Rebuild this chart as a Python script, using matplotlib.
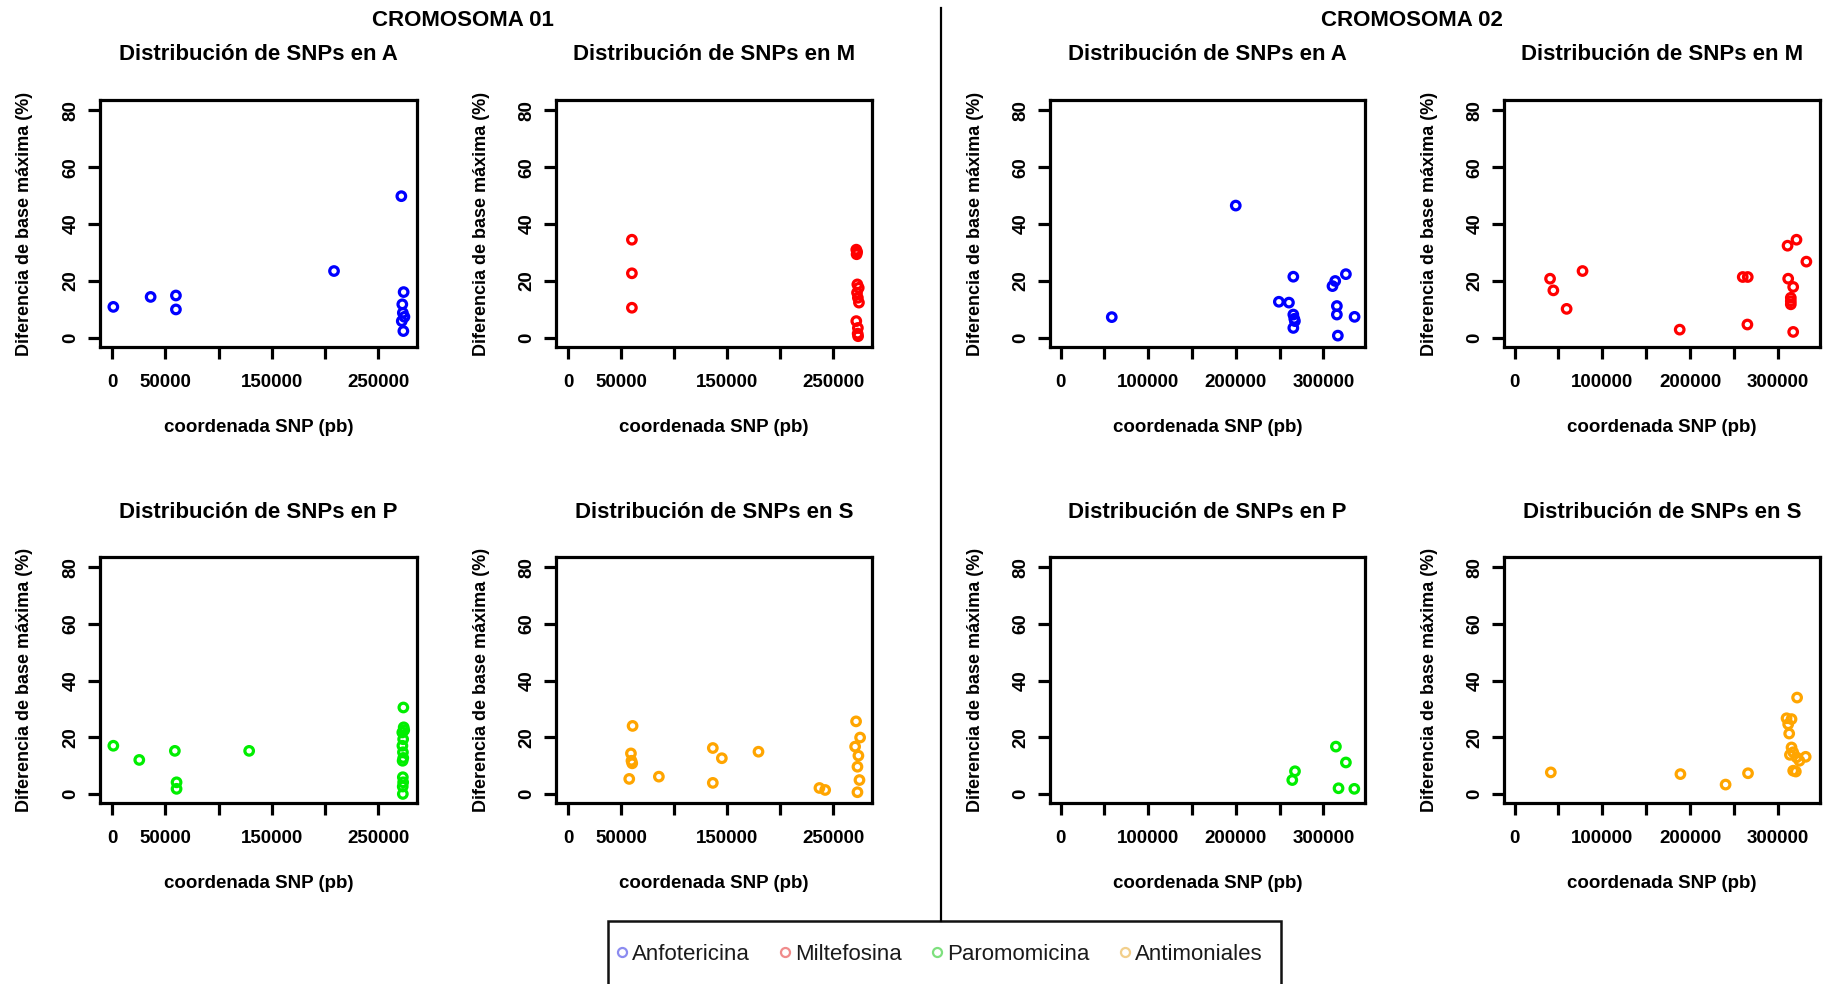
import matplotlib
matplotlib.use('Agg')
import matplotlib.pyplot as plt
from matplotlib.lines import Line2D
from matplotlib.patches import Rectangle

# ---------------- data ----------------
chromosomes = ['CROMOSOMA 01', 'CROMOSOMA 02']
drugs = ['A', 'M', 'P', 'S']
legend_labels = ['Anfotericina', 'Miltefosina', 'Paromomicina', 'Antimoniales']
drug_colors = ['#0000ff', '#ff0000', '#00ee00', '#ffa500']
legend_colors = ['#8c8cf0', '#f08c8c', '#7ee07e', '#f2cf8c']

y_ticks = [0, 20, 40, 60, 80]
chr1_ticks = [0, 50000, 100000, 150000, 200000, 250000]
chr1_ticklabels = ['0', '50000', '', '150000', '', '250000']
chr2_ticks = [0, 50000, 100000, 150000, 200000, 250000, 300000]
chr2_ticklabels = ['0', '', '100000', '', '200000', '', '300000']
chr1_xlim = (-11270, 286300)
chr2_xlim = (-12000, 347500)
y_lim = (-3.2, 83.6)

chr1_A_x = [1250, 36250, 60000, 60000, 208400, 271600, 273750, 272500, 273000, 274500, 272000, 273500]
chr1_A_y = [10.9, 14.4, 14.9, 10.0, 23.5, 49.8, 16.1, 11.8, 8.8, 7.4, 5.9, 2.4]

chr1_M_x = [60200, 60200, 60200, 271500, 272300, 271800, 272500, 273800, 272200, 273000, 274000,
            271500, 273000, 272800, 273200]
chr1_M_y = [34.5, 22.7, 10.6, 31.0, 30.2, 29.4, 18.8, 17.6, 15.9, 14.1, 12.4, 5.9, 3.5, 1.5, 0.6]

chr1_P_x = [1250, 25600, 59000, 60600, 60600, 128750, 273500, 273800, 274300, 272500, 273300, 272600,
            273100, 273400, 272800, 273000, 273300, 272900, 273000]
chr1_P_y = [17.0, 12.0, 15.2, 4.1, 1.8, 15.2, 30.5, 23.5, 22.5, 21.7, 19.3, 17.0, 14.7, 12.7, 11.7,
            5.9, 4.1, 2.6, 0.0]

chr1_S_x = [60850, 59300, 59800, 60500, 57700, 85600, 136400, 144900, 136400, 179400, 236800, 242200,
            271300, 275100, 270400, 273500, 272600, 274500, 272600]
chr1_S_y = [24.0, 14.3, 11.7, 10.8, 5.3, 6.1, 16.2, 12.6, 3.9, 14.9, 2.1, 1.4, 25.6, 19.9, 16.7, 13.5,
            9.6, 4.9, 0.6]

chr2_A_x = [58500, 200000, 265700, 249200, 260700, 265700, 266800, 267500, 265700, 310400, 313500,
            325700, 315400, 315400, 316500, 335600]
chr2_A_y = [7.3, 46.5, 21.5, 12.7, 12.4, 8.2, 6.7, 5.9, 3.5, 18.2, 20.0, 22.4, 11.2, 8.2, 0.8, 7.4]

chr2_M_x = [40400, 44150, 59250, 77350, 187900, 259600, 265300, 264900, 310600, 320750, 332000,
            311300, 317000, 314300, 314300, 314300, 317000]
chr2_M_y = [20.8, 16.7, 10.2, 23.5, 2.9, 21.4, 21.4, 4.7, 32.4, 34.5, 26.8, 20.8, 17.9, 14.1, 12.9,
            11.8, 2.1]

chr2_P_x = [314300, 325700, 267600, 264500, 317300, 335300]
chr2_P_y = [16.7, 11.1, 8.0, 4.9, 2.0, 1.8]

chr2_S_x = [41260, 188700, 240100, 265600, 321450, 309450, 315100, 311300, 312450, 315100, 317000,
            313300, 320800, 331200, 324100, 317000, 320000]
chr2_S_y = [7.6, 7.0, 3.3, 7.3, 34.0, 26.7, 26.4, 24.6, 21.3, 16.4, 14.7, 13.8, 12.9, 13.1, 11.7,
            8.2, 7.9]

# ---------------- figure ----------------
plt.rcParams['font.family'] = ['Liberation Sans', 'DejaVu Sans']
W, H = 1827, 984
fig = plt.figure(figsize=(W / 100, H / 100), dpi=100)


def fx(px):
    return px / W


def fy(py):
    return 1 - py / H


col_lr = [(100, 417), (556, 872), (1050, 1365), (1504, 1820)]
row_tb = [(100, 347), (557, 803)]

panels = [
    # (row, col, drug index, chromosome index, x, y)
    (0, 0, 0, 0, chr1_A_x, chr1_A_y),
    (0, 1, 1, 0, chr1_M_x, chr1_M_y),
    (1, 0, 2, 0, chr1_P_x, chr1_P_y),
    (1, 1, 3, 0, chr1_S_x, chr1_S_y),
    (0, 2, 0, 1, chr2_A_x, chr2_A_y),
    (0, 3, 1, 1, chr2_M_x, chr2_M_y),
    (1, 2, 2, 1, chr2_P_x, chr2_P_y),
    (1, 3, 3, 1, chr2_S_x, chr2_S_y),
]

for row, col, di, ci, xs, ys in panels:
    l, r = col_lr[col]
    t, b = row_tb[row]
    ax = fig.add_axes([fx(l), fy(b), (r - l) / W, (b - t) / H])
    ax.scatter(xs, ys, s=38, facecolors='none', edgecolors=drug_colors[di], linewidths=2.3, zorder=3)
    ax.set_ylim(*y_lim)
    ax.set_yticks(y_ticks)
    ax.set_yticklabels([str(v) for v in y_ticks])
    if ci == 0:
        ax.set_xlim(*chr1_xlim)
        ax.set_xticks(chr1_ticks)
        ax.set_xticklabels(chr1_ticklabels)
    else:
        ax.set_xlim(*chr2_xlim)
        ax.set_xticks(chr2_ticks)
        ax.set_xticklabels(chr2_ticklabels)
    for sp in ax.spines.values():
        sp.set_linewidth(2.3)
    ax.tick_params(direction='out', length=8.6, width=2.3, labelsize=13.5)
    ax.tick_params(axis='x', pad=11)
    ax.tick_params(axis='y', pad=6, labelrotation=90)
    for lbl in ax.get_yticklabels():
        lbl.set_verticalalignment('center')
        lbl.set_fontweight('bold')
    for lbl in ax.get_xticklabels():
        lbl.set_fontweight('bold')
    ax.set_ylabel('Diferencia de base máxima (%)', fontsize=13, fontweight='bold', va='center')
    ax.yaxis.set_label_coords(-75 / (r - l), 0.5)
    ax.set_xlabel('coordenada SNP (pb)', fontsize=13.5, fontweight='bold', va='center')
    ax.xaxis.set_label_coords(0.5, -80 / (b - t))
    ax.text(0.5, 1 + 45 / (b - t), 'Distribución de SNPs en ' + drugs[di], transform=ax.transAxes,
            ha='center', va='center', fontsize=16, fontweight='bold')

fig.text(fx(463), fy(21), chromosomes[0], ha='center', va='center', fontsize=16, fontweight='bold')
fig.text(fx(1412), fy(21), chromosomes[1], ha='center', va='center', fontsize=16, fontweight='bold')

# divider line
fig.add_artist(Line2D([fx(941), fx(941)], [fy(8), fy(921)], transform=fig.transFigure,
                      color='black', lw=1.6))

# legend box (cut by the bottom edge)
fig.add_artist(Rectangle((fx(608), fy(1010)), (1281 - 608) / W, (1010 - 921) / H,
                         transform=fig.transFigure, fill=False, edgecolor='#111111', lw=1.8,
                         clip_on=False))

handles = [Line2D([], [], marker='o', ls='', mfc='none', mec=c, ms=6.5, mew=1.6) for c in legend_colors]
leg = fig.legend(handles, legend_labels, loc='center left', bbox_to_anchor=(fx(616), fy(954)),
                 ncol=4, frameon=False, handlelength=0.5, handletextpad=0.2, columnspacing=1.35,
                 borderpad=0, borderaxespad=0,
                 prop={'family': ['Liberation Sans', 'DejaVu Sans'], 'size': 16})
for tx in leg.get_texts():
    tx.set_color('#1a1a1a')

fig.savefig('out.png', dpi=100)
